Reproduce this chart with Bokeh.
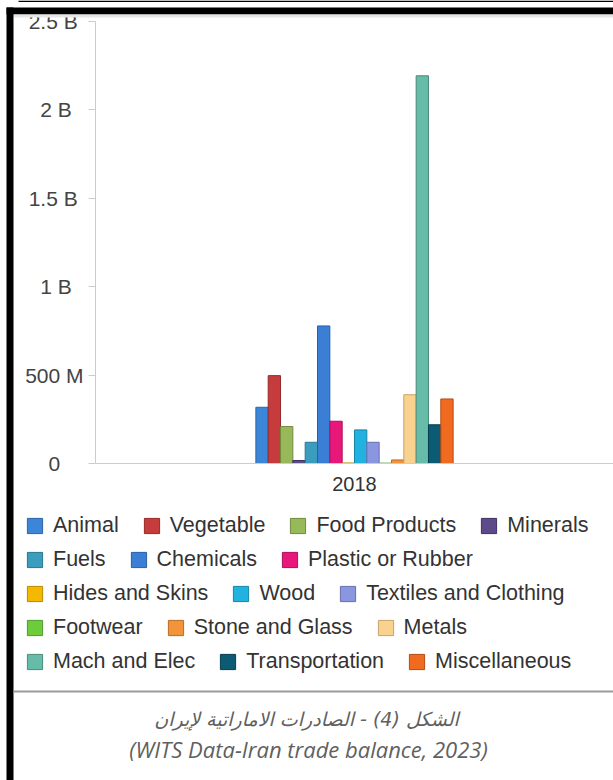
from bokeh.plotting import figure
from bokeh.models import (ColumnDataSource, Range1d, FixedTicker, Legend,
                          LegendItem, Label, BoxAnnotation)
from bokeh.embed import file_html
from bokeh.resources import INLINE

# ---- data: UAE exports to Iran by product group, 2018 (US$ millions) ----
year = "2018"
categories = [
    "Animal", "Vegetable", "Food Products", "Minerals",
    "Fuels", "Chemicals", "Plastic or Rubber",
    "Hides and Skins", "Wood", "Textiles and Clothing",
    "Footwear", "Stone and Glass", "Metals",
    "Mach and Elec", "Transportation", "Miscellaneous",
]
values_musd = [318, 497, 209, 17, 120, 778, 239, 3, 190, 120, 2, 20, 389, 2193, 219, 365]
fill_colors = [
    "#3b86d8", "#c63c3c", "#98b95a", "#5c4a8a",
    "#3a9dbd", "#3a7fd5", "#e8177a",
    "#f5b800", "#22b2e0", "#8a96e0",
    "#6ccc3c", "#f4943a", "#f8d28e",
    "#66bca8", "#0c5a73", "#f06a20",
]
line_colors = [
    "#2a64a8", "#96292a", "#718a3e", "#3f3163",
    "#287690", "#2a5fa6", "#ae0f5a",
    "#b88a00", "#1785aa", "#6670b0",
    "#4f9a2a", "#b86c28", "#c8a468",
    "#4a8c7c", "#073e50", "#b44c14",
]
legend_rows = [4, 3, 3, 3, 3]

y_ticks = [0, 500e6, 1e9, 1.5e9, 2e9, 2.5e9]
y_tick_labels = ["0", "500 M", "1 B", "1.5 B", "2 B", "2.5 B"]

caption_ar = "الشكل (4) - الصادرات الاماراتية لإيران"
caption_en = "(WITS Data-Iran trade balance, 2023)"

# ---- canvas geometry (pixels) ----
W, H = 613, 780
PLOT_L, PLOT_R = 95, 613      # chart area, left/right edges
PLOT_T, PLOT_B = 21, 463      # chart area, top/bottom edges
Y_MAX = 2.5e9

# The frame fills the whole canvas; ranges are stretched so that the
# year slot [0, 1] and the value span [0, Y_MAX] land on the chart area.
kx = 1.0 / (PLOT_R - PLOT_L)
ky = Y_MAX / (PLOT_B - PLOT_T)
x_range = Range1d(-PLOT_L * kx, (W - PLOT_L) * kx)
y_range = Range1d(-(H - PLOT_B) * ky, PLOT_B * ky)

p = figure(width=W, height=H, title=None, x_range=x_range, y_range=y_range,
           output_backend="svg", toolbar_location=None, min_border=0)
p.outline_line_color = None
p.xgrid.grid_line_color = None
p.ygrid.grid_line_color = None
p.background_fill_color = "white"
p.border_fill_color = "white"

# grouped bars side by side inside the single year slot
n = len(categories)
bar_w = 0.0238
slot_center = 0.5
xs = [slot_center + (i - (n - 1) / 2) * bar_w for i in range(n)]
src = ColumnDataSource(dict(
    x=xs,
    top=[v * 1e6 for v in values_musd],
    fill=fill_colors,
    line=line_colors,
    name=categories,
))
bars = p.vbar(x="x", top="top", bottom=0, width=bar_w, source=src,
              fill_color="fill", line_color="line", line_width=1)

# ---- axes, pinned to the chart area ----
# value labels are centred in their column: right-aligned text is padded
# with no-break spaces so that short labels shift toward the middle
NBSP = "\u00a0"
pad = {"0": 4, "1 B": 2, "2 B": 2, "1.5 B": 1, "2.5 B": 1, "500 M": 0}

yax = p.yaxis[0]
yax.fixed_location = 0
yax.bounds = (0, Y_MAX)
yax.ticker = FixedTicker(ticks=y_ticks)
yax.major_label_overrides = {t: s + NBSP * pad[s] for t, s in zip(y_ticks, y_tick_labels)}
yax.minor_tick_line_color = None
yax.major_tick_in = 0
yax.major_tick_out = 7
yax.major_tick_line_color = "#cccccc"
yax.axis_line_color = "#cccccc"
yax.major_label_standoff = 5
yax.major_label_text_font = "Liberation Sans"
yax.major_label_text_font_size = "21px"
yax.major_label_text_color = "#444444"

xax = p.xaxis[0]
xax.fixed_location = 0
xax.bounds = (0, 1)
xax.ticker = FixedTicker(ticks=[slot_center])
xax.major_label_overrides = {slot_center: year}
xax.major_tick_in = 0
xax.major_tick_out = 0
xax.minor_tick_line_color = None
xax.axis_line_color = "#cccccc"
xax.major_label_standoff = 13
xax.major_label_text_font = "Liberation Sans"
xax.major_label_text_font_size = "20px"
xax.major_label_text_color = "#333333"


def sy(y):
    # canvas row (from top) -> screen units (from bottom)
    return H - y


# ---- legend: five flowing rows ----
row_centers = [525, 559, 593, 627, 661]
start = 0
for row, count in enumerate(legend_rows):
    items = [LegendItem(label=categories[j], renderers=[bars], index=j)
             for j in range(start, start + count)]
    start += count
    lg = Legend(items=items, orientation="horizontal",
                location=(25, sy(row_centers[row] + 12.5)),
                glyph_width=19, glyph_height=19, label_standoff=9, spacing=23,
                padding=0, margin=0, border_line_color=None,
                background_fill_alpha=0,
                label_text_font="Liberation Sans", label_text_font_size="21.5px",
                label_text_color="#333333")
    p.add_layout(lg)


# ---- frame decoration ----
def box(x0, x1, y0, y1, color):
    return BoxAnnotation(left=x0, right=x1, top=sy(y0), bottom=sy(y1),
                         left_units="screen", right_units="screen",
                         top_units="screen", bottom_units="screen",
                         fill_color=color, fill_alpha=1, line_color=None)


p.add_layout(box(18, 613, 0, 1.5, "black"))
p.add_layout(box(6, 613, 7, 14, "black"))
p.add_layout(box(13, 613, 14, 17, "#e6e6e6"))
p.add_layout(box(6, 13, 7, 780, "black"))
p.add_layout(box(13, 613, 690, 692, "#9a9a9a"))

# ---- caption ----
p.add_layout(Label(x=306, y=sy(718), x_units="screen", y_units="screen",
                   text=caption_ar, text_align="center", text_baseline="middle",
                   text_font="DejaVu Sans", text_font_style="italic",
                   text_font_size="19px", text_color="#606060"))
p.add_layout(Label(x=308, y=sy(748), x_units="screen", y_units="screen",
                   text=caption_en, text_align="center", text_baseline="middle",
                   text_font="Open Sans", text_font_style="italic",
                   text_font_size="22px", text_color="#606060"))

open("out.html", "w").write(file_html(p, INLINE))
